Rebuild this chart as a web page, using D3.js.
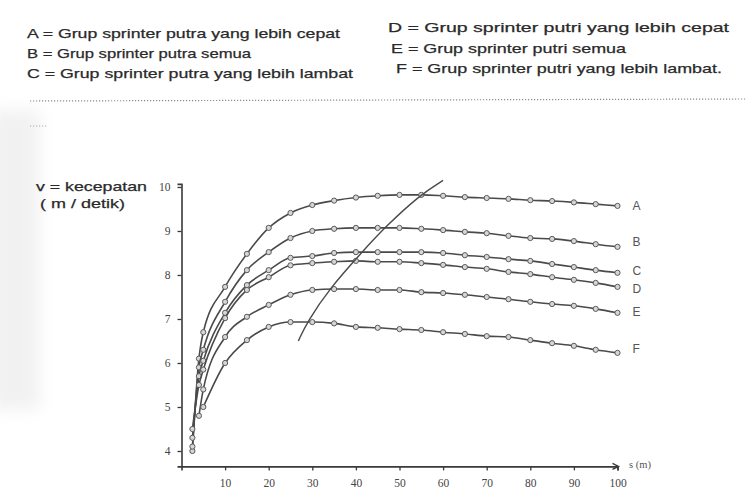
<!DOCTYPE html>
<html>
<head>
<meta charset="utf-8">
<script src="https://cdn.jsdelivr.net/npm/d3@7/dist/d3.min.js"></script>
<style>
  html, body { margin: 0; padding: 0; background: #fff; }
  svg { display: block; }
</style>
</head>
<body>
<svg id="chart" width="746" height="498"></svg>
<script>
// ---------- data ----------
const distance = [2.5, 4, 5, 10, 15, 20, 25, 30, 35, 40, 45, 50, 55, 60, 65, 70, 75, 80, 85, 90, 95, 100];
const seriesNames = ["A", "B", "C", "D", "E", "F"];
const valuesA = [4.0, 6.1, 6.7, 7.73, 8.48, 9.07, 9.41, 9.59, 9.69, 9.76, 9.8, 9.82, 9.82, 9.8, 9.77, 9.75, 9.73, 9.7, 9.68, 9.65, 9.61, 9.57];
const valuesB = [4.1, 5.9, 6.3, 7.39, 8.11, 8.52, 8.84, 9.0, 9.05, 9.07, 9.07, 9.07, 9.05, 9.02, 8.98, 8.95, 8.89, 8.84, 8.82, 8.77, 8.70, 8.64];
const valuesC = [4.3, 5.7, 6.05, 7.14, 7.77, 8.11, 8.39, 8.43, 8.5, 8.52, 8.52, 8.52, 8.52, 8.5, 8.45, 8.41, 8.36, 8.32, 8.25, 8.18, 8.11, 8.05];
const valuesD = [4.5, 5.5, 5.85, 7.02, 7.66, 7.95, 8.22, 8.27, 8.3, 8.32, 8.3, 8.3, 8.27, 8.23, 8.18, 8.14, 8.07, 8.02, 7.95, 7.89, 7.82, 7.73];
const valuesE = [null, 4.8, 5.4, 6.59, 7.05, 7.32, 7.55, 7.66, 7.68, 7.68, 7.66, 7.66, 7.61, 7.59, 7.55, 7.5, 7.45, 7.39, 7.34, 7.3, 7.23, 7.14];
const valuesF = [null, null, 5.0, 6.0, 6.52, 6.82, 6.93, 6.93, 6.9, 6.82, 6.8, 6.77, 6.75, 6.7, 6.66, 6.61, 6.59, 6.52, 6.45, 6.39, 6.3, 6.23];
const diagonalDistance = [26.8, 28.8, 34, 41.4, 46.7, 54.7, 60];
const diagonalValues = [6.5, 6.93, 7.7, 8.52, 9.09, 9.82, 10.15];
const xTickValues = [10, 20, 30, 40, 50, 60, 70, 80, 90, 100];
const xTickLabels = ["10", "20", "30", "40", "50", "60", "70", "80", "90", "100"];
const yTickValues = [4, 5, 6, 7, 8, 9, 10];
const yTickLabels = ["4", "5", "6", "7", "8", "9", "10"];
const legendLeft = [
  "A = Grup sprinter putra yang lebih cepat",
  "B = Grup sprinter putra semua",
  "C = Grup sprinter putra yang lebih lambat"
];
const legendRight = [
  "D = Grup sprinter putri yang lebih cepat",
  "E = Grup sprinter putri semua",
  "F = Grup sprinter putri yang lebih lambat."
];
const yTitle = ["v = kecepatan", "( m / detik)"];
const xTitle = "s (m)";

// ---------- layout ----------
const allValues = [valuesA, valuesB, valuesC, valuesD, valuesE, valuesF];
const labelShift = [0, -5, -2, 2, -1, -4];
const svg = d3.select("#chart");
const ink = "#3a3a3a";

// faint scan shading on the left
const defs = svg.append("defs");
defs.append("filter").attr("id", "soft").attr("x", "-50%").attr("y", "-20%").attr("width", "200%").attr("height", "140%")
  .append("feGaussianBlur").attr("stdDeviation", 8);
svg.append("rect").attr("x", -10).attr("y", 110).attr("width", 50).attr("height", 300)
  .attr("fill", "#ececec").attr("filter", "url(#soft)").attr("opacity", 0.7);

// legend
const legendFont = "'Liberation Sans', Arial, sans-serif";
const leftWidths = [313, 224, 326];
const rightWidths = [341, 235, 326];
legendLeft.forEach((t, i) => {
  svg.append("text").attr("x", 27).attr("y", 38 + i * 20)
    .attr("font-family", legendFont).attr("font-size", 13.5).attr("fill", "#2a2a2a")
    .attr("stroke", "#2a2a2a").attr("stroke-width", 0.25)
    .attr("textLength", leftWidths[i]).attr("lengthAdjust", "spacingAndGlyphs").text(t);
});
legendRight.forEach((t, i) => {
  svg.append("text").attr("x", 388 + [0, 3, 8][i]).attr("y", 32 + i * 20.5)
    .attr("font-family", legendFont).attr("font-size", 13.5).attr("fill", "#2a2a2a")
    .attr("stroke", "#2a2a2a").attr("stroke-width", 0.25)
    .attr("textLength", rightWidths[i]).attr("lengthAdjust", "spacingAndGlyphs").text(t);
});

// dotted separator
svg.append("line").attr("x1", 30).attr("x2", 746).attr("y1", 101).attr("y2", 99)
  .attr("stroke", "#8a8a8a").attr("stroke-width", 1.2).attr("stroke-dasharray", "1.2,1.8");
svg.append("line").attr("x1", 30).attr("x2", 48).attr("y1", 126).attr("y2", 126)
  .attr("stroke", "#aaa").attr("stroke-width", 1.2).attr("stroke-dasharray", "1.2,1.8");

// scales
const x = d3.scaleLinear().domain([0, 100]).range([181.5, 617.5]);
const y = d3.scaleLinear().domain([3.65, 10.07]).range([466.4, 183.9]);

// axes
const serif = "'Liberation Serif', 'DejaVu Serif', serif";
const xAxis = svg.append("g").attr("transform", `translate(0,${y(3.65)})`)
  .call(d3.axisBottom(x).tickValues(xTickValues).tickFormat((d, i) => xTickLabels[i])
    .tickSizeOuter(0).tickSize(4).tickPadding(8));
const yAxis = svg.append("g").attr("transform", `translate(${x(0)},0)`)
  .call(d3.axisLeft(y).tickValues(yTickValues).tickFormat((d, i) => yTickLabels[i])
    .tickSizeOuter(0).tickSize(4).tickPadding(7));
[xAxis, yAxis].forEach(g => {
  g.select(".domain").attr("stroke", ink).attr("stroke-width", 1.6);
  g.selectAll(".tick line").attr("stroke", ink).attr("stroke-width", 1.3);
  g.selectAll(".tick text").attr("fill", "#444").attr("font-family", serif).attr("font-size", 11.5);
});
// arrow on x axis end
svg.append("path")
  .attr("d", `M${x(100) - 5},${y(3.65) - 3}L${x(100) + 1},${y(3.65)}L${x(100) - 5},${y(3.65) + 3}`)
  .attr("fill", "none").attr("stroke", ink).attr("stroke-width", 1.4);

svg.append("text").attr("x", 629).attr("y", 468).attr("font-family", serif)
  .attr("font-size", 10.5).attr("fill", "#555").text(xTitle);

yTitle.forEach((t, i) => {
  svg.append("text").attr("x", [36, 40][i]).attr("y", 191 + i * 17)
    .attr("font-family", legendFont).attr("font-size", 13).attr("fill", "#2a2a2a")
    .attr("stroke", "#2a2a2a").attr("stroke-width", 0.25)
    .attr("textLength", [111, 85][i]).attr("lengthAdjust", "spacingAndGlyphs").text(t);
});

// curves
const line = d3.line()
  .defined(d => d.v != null)
  .x(d => x(d.s)).y(d => y(d.v))
  .curve(d3.curveMonotoneX);

allValues.forEach((vals, k) => {
  const pts = distance.map((s, i) => ({ s, v: vals[i] }));
  svg.append("path").datum(pts).attr("d", line)
    .attr("fill", "none").attr("stroke", "#4a4a4a").attr("stroke-width", 1.6);
  svg.append("g").selectAll("circle").data(pts.filter(d => d.v != null)).join("circle")
    .attr("cx", d => x(d.s)).attr("cy", d => y(d.v)).attr("r", 2.6)
    .attr("fill", "#d6d6d6").attr("stroke", "#5a5a5a").attr("stroke-width", 1);
  const last = pts[pts.length - 1];
  svg.append("text").attr("x", x(last.s) + 15).attr("y", y(last.v) + 4.5 + labelShift[k])
    .attr("font-family", legendFont).attr("font-size", 12).attr("fill", "#555")
    .text(seriesNames[k]);
});

// diagonal curve
const diag = diagonalDistance.map((s, i) => ({ s, v: diagonalValues[i] }));
svg.append("path").datum(diag)
  .attr("d", d3.line().x(d => x(d.s)).y(d => y(d.v)).curve(d3.curveBasis))
  .attr("fill", "none").attr("stroke", "#4a4a4a").attr("stroke-width", 1.4);
</script>
</body>
</html>
